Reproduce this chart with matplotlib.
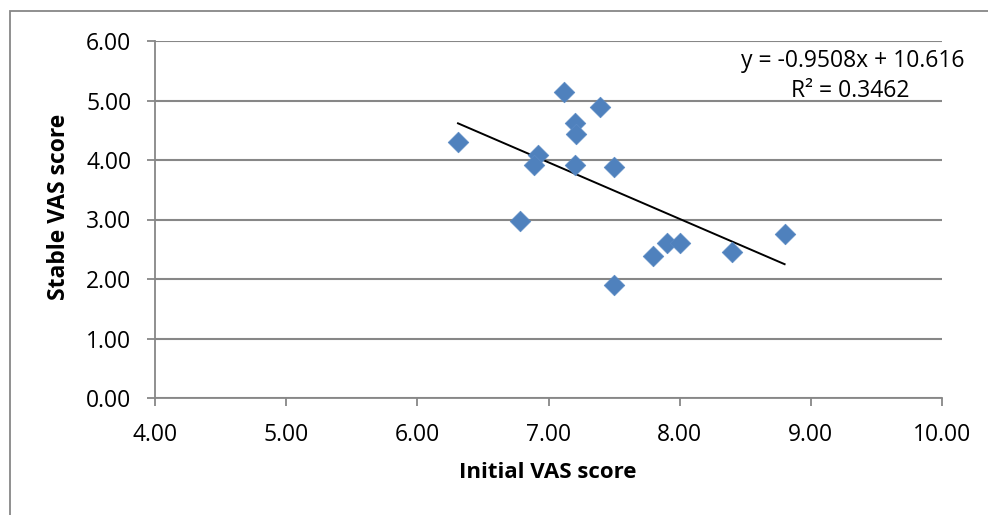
import numpy as np
import matplotlib.pyplot as plt
from matplotlib.patches import Rectangle

# data
initial_vas = [6.31, 7.12, 7.39, 7.20, 7.21, 6.92, 6.89, 7.20,
               7.50, 6.78, 7.50, 7.80, 7.90, 8.00, 8.40, 8.80]
stable_vas = [4.31, 5.14, 4.89, 4.62, 4.44, 4.09, 3.91, 3.91,
              3.88, 2.97, 1.90, 2.38, 2.60, 2.60, 2.45, 2.76]
slope = -0.9508
intercept = 10.616
r2 = 0.3462
x_ticks = [4, 5, 6, 7, 8, 9, 10]
y_ticks = [0, 1, 2, 3, 4, 5, 6]

plt.rcParams['font.family'] = ['Open Sans', 'DejaVu Sans']

W, H = 988, 515
fig = plt.figure(figsize=(W / 100, H / 100), dpi=100)
ax = fig.add_axes([155 / W, 1 - 398 / H, (942 - 155) / W, (398 - 41) / H])

grey = '#878787'

# outer chart frame (only left and top visible)
fig.patches.append(Rectangle((10 / W, -0.1), 1.2, 1 - 11 / H + 0.1,
                             transform=fig.transFigure, fill=False,
                             edgecolor=grey, linewidth=1.3))

ax.scatter(initial_vas, stable_vas, marker='D', s=10.5 ** 2,
           color='#4f81bd', edgecolor='#5a8ac4', linewidth=0.5, zorder=3)

xl = np.array([min(initial_vas), max(initial_vas)])
ax.plot(xl, slope * xl + intercept, color='black', linewidth=1.4, zorder=2)

ax.set_xlim(4, 10)
ax.set_ylim(0, 6)
ax.set_xticks(x_ticks)
ax.set_yticks(y_ticks)
ax.set_xticklabels(['%.2f' % v for v in x_ticks])
ax.set_yticklabels(['%.2f' % v for v in y_ticks])
ax.tick_params(axis='both', colors=grey, labelcolor='black', labelsize=16.5,
               length=6, width=1.3)
ax.tick_params(axis='x', pad=12)
ax.tick_params(axis='y', pad=11)

ax.grid(axis='y', color=grey, linewidth=1.5)
ax.set_axisbelow(True)
for s in ['top', 'right']:
    ax.spines[s].set_visible(False)
for s in ['left', 'bottom']:
    ax.spines[s].set_color(grey)
    ax.spines[s].set_linewidth(1.3)

fig.text(548 / W, 1 - 472 / H, 'Initial VAS score', ha='center', va='center',
         fontsize=16, fontweight='bold')
fig.text(59 / W, 1 - 207 / H, 'Stable VAS score', ha='center', va='center',
         fontsize=16.5, fontweight='bold', rotation=90)

fig.text(853 / W, 1 - 61 / H, 'y = %.4fx + %.3f' % (slope, intercept),
         ha='center', va='center', fontsize=16.5)
fig.text(850 / W, 1 - 91 / H, 'R² = %.4f' % r2,
         ha='center', va='center', fontsize=16.5)

fig.savefig('out.png', dpi=100)
